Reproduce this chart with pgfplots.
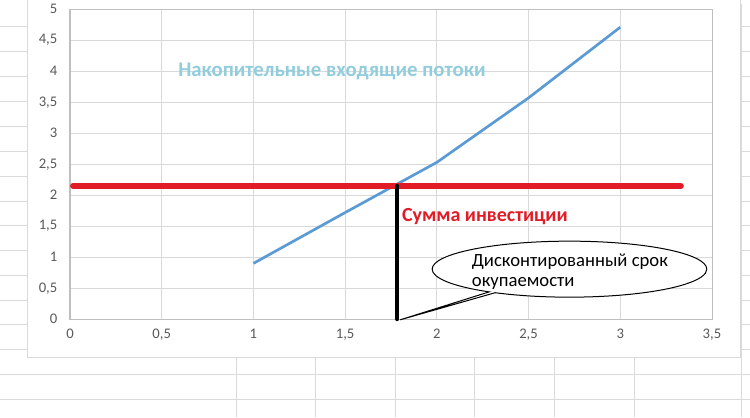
\documentclass[border=0pt]{standalone}
\usepackage{fontspec}
\setmainfont{Carlito}
\usepackage{pgfplots}
\pgfplotsset{compat=1.18}
\usetikzlibrary{shapes.callouts}

\definecolor{cellline}{RGB}{218,218,218}
\definecolor{gridgray}{RGB}{217,217,217}
\definecolor{axisgray}{RGB}{191,191,191}
\definecolor{ticktext}{RGB}{89,89,89}
\definecolor{flowblue}{RGB}{91,155,213}
\definecolor{titleblue}{RGB}{146,205,222}
\definecolor{invred}{RGB}{226,28,38}

\begin{document}
\begin{tikzpicture}
% spreadsheet behind the chart, in screen pixels (1px = 0.75pt)
\begin{scope}[shift={(-52.5pt,236.25pt)},x=0.75pt,y=-0.75pt]
  \useasboundingbox (0,0) rectangle (750,413);
  \fill[white] (0,0) rectangle (750,413);
  \foreach \yy in {22,47,72,97,122,147,172,197,221,246,271,296,320,345,370,395}
    \draw[cellline,line width=0.75pt] (0,\yy) -- (750,\yy);
  \foreach \xx in {236,315,395,474,554,634,741}
    \draw[cellline,line width=0.75pt] (\xx,0) -- (\xx,413);
  \filldraw[fill=white,draw=gridgray,line width=0.75pt] (28,-5) rectangle (740,353);
\end{scope}

\begin{axis}[
  scale only axis,
  width=481.5pt, height=232.5pt,
  xmin=0, xmax=3.5, ymin=0, ymax=5,
  xtick={0,0.5,...,3.5}, ytick={0,0.5,...,5},
  grid=major,
  grid style={gridgray,line width=0.75pt},
  axis line style={axisgray,line width=0.75pt},
  major tick length=0pt,
  clip=false,
  /pgf/number format/use comma,
  /pgf/number format/assume math mode=true,
  tick label style={ticktext,font=\fontsize{11}{13}\selectfont},
  xticklabel style={yshift=-4pt},
  yticklabel style={xshift=-6pt},
]
% cumulative discounted inflows
\addplot[flowblue,line width=2pt] coordinates {
  (1,0.9) (1.5,1.72) (2,2.53) (2.5,3.57) (3,4.71)
};
% investment sum
\addplot[invred,line width=4.5pt,line cap=round] coordinates {
  (0.017,2.15) (3.33,2.15)
};
% payback point
\addplot[black,line width=3pt,line cap=round] coordinates {
  (1.785,2.15) (1.785,0.0)
};

\node[titleblue,font=\fontsize{15.6}{18}\selectfont\bfseries] at (axis cs:1.428,4.0)
  {Накопительные входящие потоки};
\node[invred,font=\fontsize{15}{17}\selectfont\bfseries] at (axis cs:2.262,1.66)
  {Сумма инвестиции};
\node[ellipse callout,draw=black,fill=white,line width=0.75pt,
      minimum width=206pt,minimum height=42pt,callout pointer arc=3,
      callout absolute pointer={(axis cs:1.80,-0.01)}] at (axis cs:2.723,0.807) {};
\node[anchor=west,align=left,inner sep=0pt,font=\fontsize{14}{15}\selectfont]
  at (axis cs:2.19,0.76) {Дисконтированный срок\\окупаемости};
\end{axis}
\end{tikzpicture}
\end{document}
